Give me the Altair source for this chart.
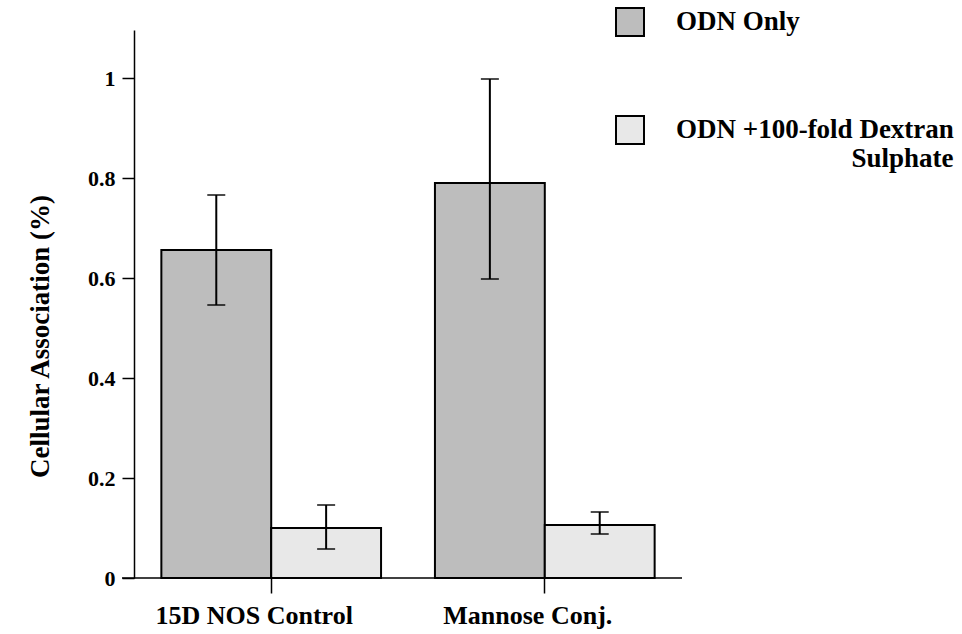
import altair as alt
import pandas as pd

categories = ["15D NOS Control", "15D NOS Control", "Mannose Conj.", "Mannose Conj."]
series = ["ODN Only", "ODN +100-fold Dextran Sulphate", "ODN Only", "ODN +100-fold Dextran Sulphate"]
values = [0.656, 0.100, 0.790, 0.106]
err_lo = [0.546, 0.058, 0.598, 0.088]
err_hi = [0.766, 0.146, 0.998, 0.132]

series_order = ["ODN Only", "ODN +100-fold Dextran Sulphate"]
fills = ["#bdbdbd", "#e8e8e8"]
y_ticks = [0, 0.2, 0.4, 0.6, 0.8, 1]

df = pd.DataFrame({"category": categories, "series": series, "value": values,
                   "lo": err_lo, "hi": err_hi})

FONT = "Liberation Serif"
ZW = "\u200b"
NB = "\u00a0"
label_expr = ("datum.label == 'ODN Only' ? 'ODN Only' : "
              "['ODN +100-fold Dextran', '" + ZW + NB * 26 + "Sulphate']")

x_enc = alt.X("category:N", sort=["15D NOS Control", "Mannose Conj."],
              scale=alt.Scale(paddingInner=0.197, paddingOuter=0.1),
              axis=alt.Axis(title=None, domain=False, labelAngle=0, ticks=True, tickSize=15,
                            tickColor="black", tickWidth=1.5, labelFont=FONT, labelFontSize=26,
                            labelFontWeight="bold", labelColor="black", labelPadding=9,
                            labelOffset=-17, labelLimit=400, grid=False))
xo_enc = alt.XOffset("series:N", sort=series_order, scale=alt.Scale(paddingInner=0, paddingOuter=0))
y_scale = alt.Scale(domain=[0, 1.096], nice=False)

base = alt.Chart(df)

bars = base.mark_bar(stroke="black", strokeWidth=2, opacity=1).encode(
    x=x_enc,
    xOffset=xo_enc,
    y=alt.Y("value:Q", scale=y_scale,
            axis=alt.Axis(title="Cellular Association (%)", values=y_ticks, format="~g", grid=False,
                          domainColor="black", domainWidth=1.5, tickColor="black", tickWidth=1.5,
                          tickSize=12, labelFont=FONT, labelFontSize=22, labelFontWeight="bold",
                          labelColor="black", labelPadding=7, titleFont=FONT, titleFontSize=27,
                          titleFontWeight="bold", titleColor="black", titleX=-94, titleY=306,
                          titleBaseline="middle")),
    fill=alt.Fill("series:N", sort=series_order,
                  scale=alt.Scale(domain=series_order, range=fills),
                  legend=alt.Legend(title=None, orient="none", legendX=481, legendY=-23,
                                    symbolType="square", symbolSize=784,
                                    symbolStrokeColor="black", symbolStrokeWidth=2,
                                    labelFont=FONT, labelFontSize=27, labelFontWeight="bold",
                                    labelColor="black", labelOffset=31, rowPadding=72,
                                    labelLimit=500, labelExpr=label_expr, padding=0)),
)

rules = base.mark_rule(color="black", strokeWidth=2).encode(
    x=x_enc, xOffset=xo_enc, y=alt.Y("lo:Q", scale=y_scale), y2="hi:Q")

caps_hi = base.mark_tick(color="black", thickness=2, size=18).encode(
    x=x_enc, xOffset=xo_enc, y=alt.Y("hi:Q", scale=y_scale))
caps_lo = base.mark_tick(color="black", thickness=2, size=18).encode(
    x=x_enc, xOffset=xo_enc, y=alt.Y("lo:Q", scale=y_scale))

baseline = alt.Chart(pd.DataFrame({"v": [0]})).mark_rule(color="black", strokeWidth=1.5).encode(
    y=alt.Y("v:Q", scale=y_scale), x=alt.value(-12), x2=alt.value(548))

chart = alt.layer(bars, rules, caps_hi, caps_lo, baseline).properties(
    width=548, height=548,
    background="white",
    padding={"left": 134, "top": 30, "right": 280, "bottom": 56},
    autosize=alt.AutoSizeParams(type="none"),
).configure_view(strokeWidth=0, stroke="transparent")

chart.save("out.html", embed_options={"renderer": "svg", "actions": False})
